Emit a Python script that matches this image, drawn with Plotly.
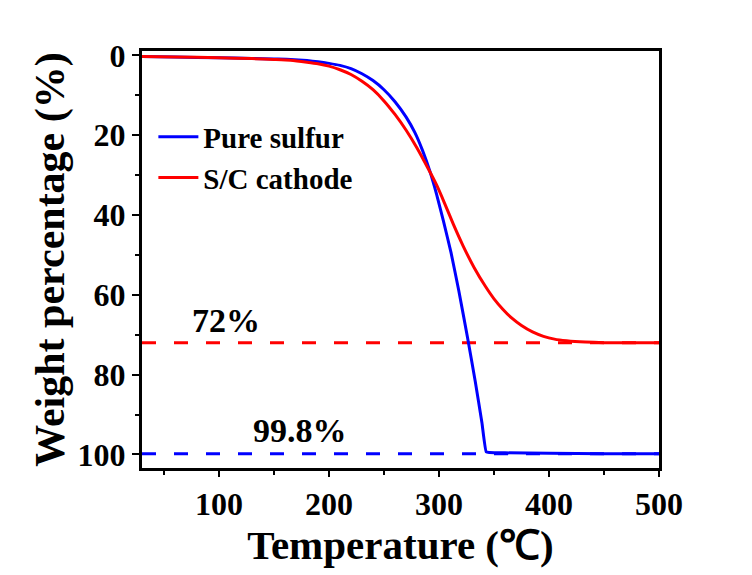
import plotly.graph_objects as go

# Data (TGA curves)
sulfur_T = [30, 60, 100, 130, 150, 165, 180, 190, 200, 210, 220, 230, 240, 250, 260, 270, 278, 285, 292, 298, 304, 311, 318, 326, 333, 339, 343, 346, 360, 400, 450, 500]
sulfur_W = [0.3, 0.4, 0.6, 0.75, 0.9, 1.0, 1.3, 1.6, 2.0, 2.5, 3.3, 4.6, 6.3, 8.6, 11.6, 15.4, 19.3, 23.8, 29.3, 35.0, 41.5, 49.5, 59.0, 70.8, 81.8, 92, 99.4, 99.5, 99.6, 99.7, 99.8, 99.8]

sc_T = [30, 60, 100, 130, 150, 165, 180, 190, 200, 210, 220, 230, 240, 250, 260, 270, 280, 290, 298, 305, 313, 322, 332, 342, 350, 358, 366, 375, 385, 395, 405, 416, 433, 450, 500]
sc_W = [0.3, 0.4, 0.6, 0.8, 1.0, 1.2, 1.7, 2.1, 2.7, 3.6, 4.8, 6.5, 8.6, 11.4, 14.8, 18.7, 23.2, 28.3, 32.6, 37.0, 42.3, 47.8, 53.2, 57.8, 61.0, 63.6, 65.8, 67.7, 69.3, 70.4, 71.1, 71.5, 71.85, 72, 72]

ref_levels = [72, 99.8]
ref_labels = ["72%", "99.8%"]
ref_colors = ["#ff0000", "#0000ff"]
ref_label_T = [106, 174]
ref_label_W = [66.5, 94]

x_range = [30, 500]
y_range = [103.4, -1.1]
x_ticks = [100, 200, 300, 400, 500]
y_ticks = [0, 20, 40, 60, 80, 100]

FONT = "Liberation Serif, Times New Roman, serif"

fig = go.Figure()

for lvl, col in zip(ref_levels, ref_colors):
    fig.add_trace(go.Scatter(x=x_range, y=[lvl, lvl], mode="lines",
                             line=dict(color=col, width=3, dash="14px,18px"),
                             showlegend=False, hoverinfo="skip"))

fig.add_trace(go.Scatter(x=sulfur_T, y=sulfur_W, mode="lines", name="Pure sulfur",
                         line=dict(color="#0000ff", width=3, shape="spline", smoothing=0.4)))
fig.add_trace(go.Scatter(x=sc_T, y=sc_W, mode="lines", name="S/C cathode",
                         line=dict(color="#ff0000", width=3, shape="spline", smoothing=0.5)))

for txt, tx, ty in zip(ref_labels, ref_label_T, ref_label_W):
    fig.add_annotation(x=tx, y=ty, text=txt, showarrow=False,
                       font=dict(family=FONT, size=34, color="black", weight="bold"))

axis_common = dict(
    showline=True, linecolor="black", linewidth=3, mirror=True,
    ticks="outside", tickwidth=2, tickcolor="black",
    showgrid=False, zeroline=False,
    tickfont=dict(family=FONT, size=32, color="black", weight="bold"),
)

fig.update_xaxes(range=x_range, tickvals=x_ticks, ticklen=6,
                 minor=dict(ticks="outside", ticklen=4, tickwidth=2, tickcolor="black", dtick=50, tick0=0),
                 title=dict(text="Temperature (℃)", standoff=0,
                            font=dict(family=FONT, size=41, color="black", weight="bold")),
                 **axis_common)
fig.update_yaxes(range=y_range, tickvals=y_ticks, ticklen=7,
                 minor=dict(ticks="outside", ticklen=4, tickwidth=2, tickcolor="black", dtick=10, tick0=0),
                 title=dict(text="Weight percentage (%)", standoff=0,
                            font=dict(family=FONT, size=42, color="black", weight="bold")),
                 **axis_common)

fig.update_layout(
    width=752, height=575,
    margin=dict(l=142, r=93, t=51, b=107),
    paper_bgcolor="white", plot_bgcolor="white",
    legend=dict(x=0.022, y=0.855, xanchor="left", yanchor="top",
                bgcolor="rgba(0,0,0,0)", borderwidth=0, itemwidth=40,
                font=dict(family=FONT, size=29, color="black", weight="bold"),
                tracegroupgap=0),
)

fig.write_html("out.html")
